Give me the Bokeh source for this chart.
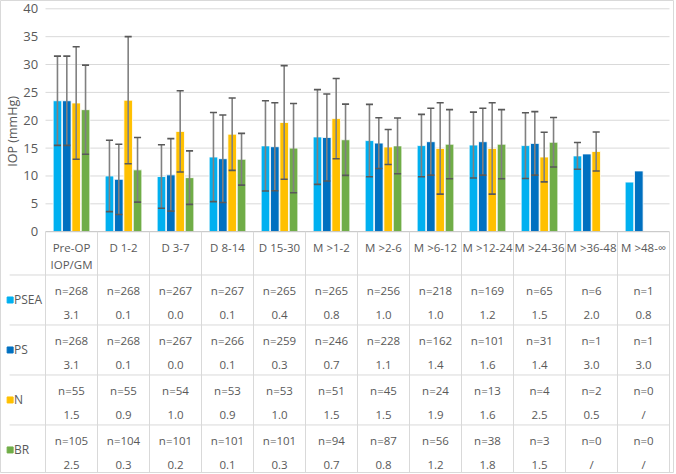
import math
from bokeh.plotting import figure
from bokeh.models import Range1d
from bokeh.core.properties import value
from bokeh.embed import file_html
from bokeh.resources import INLINE

# ---------------- data ----------------
categories = ["Pre-OP\nIOP/GM", "D 1-2", "D 3-7", "D 8-14", "D 15-30", "M >1-2",
              "M >2-6", "M >6-12", "M >12-24", "M >24-36", "M >36-48", "M >48-\u221e"]
series_names = ["PSEA", "PS", "N", "BR"]
series_colors = ["#00B0F0", "#0070C0", "#FFC000", "#70AD47"]

psea_mean = [23.5, 10.0, 9.9, 13.4, 15.4, 17.0, 16.35, 15.45, 15.55, 15.45, 13.6, 8.9]
psea_sd = [8.0, 6.4, 5.7, 8.0, 8.1, 8.5, 6.5, 5.6, 5.9, 5.9, 2.4, None]
ps_mean = [23.5, 9.4, 10.2, 13.1, 15.25, 16.9, 15.9, 16.15, 16.15, 15.85, 13.95, 10.9]
ps_sd = [8.0, 6.3, 6.5, 7.85, 7.9, 7.8, 4.55, 6.0, 6.0, 5.7, None, None]
n_mean = [23.1, 23.6, 18.0, 17.5, 19.6, 20.3, 15.2, 14.95, 14.95, 13.4, 14.4, None]
n_sd = [10.1, 11.4, 7.3, 6.5, 10.2, 7.2, 3.15, 8.2, 8.2, 4.45, 3.5, None]
br_mean = [21.9, 11.1, 9.7, 13.0, 15.0, 16.5, 15.4, 15.7, 15.7, 16.05, None, None]
br_sd = [8.0, 5.8, 4.8, 4.65, 8.0, 6.4, 5.0, 6.2, 6.2, 4.45, None, None]

psea_n = [268, 268, 267, 267, 265, 265, 256, 218, 169, 65, 6, 1]
psea_val = ["3.1", "0.1", "0.0", "0.1", "0.4", "0.8", "1.0", "1.0", "1.2", "1.5", "2.0", "0.8"]
ps_n = [268, 268, 267, 266, 259, 246, 228, 162, 101, 31, 1, 1]
ps_val = ["3.1", "0.1", "0.0", "0.1", "0.3", "0.7", "1.1", "1.4", "1.6", "1.4", "3.0", "3.0"]
n_n = [55, 55, 54, 53, 53, 51, 45, 24, 13, 4, 2, 0]
n_val = ["1.5", "0.9", "1.0", "0.9", "1.0", "1.5", "1.5", "1.9", "1.6", "2.5", "0.5", "/"]
br_n = [105, 104, 101, 101, 101, 94, 87, 56, 38, 3, 0, 0]
br_val = ["2.5", "0.3", "0.2", "0.1", "0.3", "0.7", "0.8", "1.2", "1.8", "1.5", "/", "/"]

y_ticks = [0, 5, 10, 15, 20, 25, 30, 35, 40]
y_label = "IOP (mmHg)"

means = [psea_mean, ps_mean, n_mean, br_mean]
sds = [psea_sd, ps_sd, n_sd, br_sd]
ns = [psea_n, ps_n, n_n, br_n]
vals = [psea_val, ps_val, n_val, br_val]

# ---------------- layout constants ----------------
FONT = value("Open Sans")
TXT = "#595959"
GRID = "#d9d9d9"
W, H = 674, 473
PX_X = 52.0      # px per category
PX_Y = 5.5725    # px per IOP unit
offsets = [-0.27, -0.09, 0.09, 0.27]
bar_w = 0.165
cap = 0.068
HEADER_H = 7.77
ROW_H = 8.97
ncat = len(categories)
x0 = -45.0 / PX_X
y1 = 40 + 8.3 / PX_Y
table_bottom = y1 - H / PX_Y

p = figure(width=W, height=H, x_range=Range1d(x0, x0 + W / PX_X),
           y_range=Range1d(table_bottom, y1),
           x_axis_type=None, y_axis_type=None,
           output_backend="svg", toolbar_location=None, min_border=0,
           outline_line_color=GRID, outline_line_width=1,
           background_fill_color="white", border_fill_color="white")
p.grid.visible = False

# horizontal gridlines
p.segment(x0=[0] * (len(y_ticks) - 1), x1=[ncat] * (len(y_ticks) - 1),
          y0=y_ticks[1:], y1=y_ticks[1:], line_color=GRID, line_width=1)

# y tick labels and axis title
p.text(x=[-0.14] * len(y_ticks), y=y_ticks, text=[str(t) for t in y_ticks],
       text_align="right", text_baseline="middle", text_font=FONT,
       text_font_size="13px", text_color=TXT)
p.text(x=[-0.635], y=[18], text=[y_label], angle=math.pi / 2,
       text_align="center", text_baseline="middle", text_font=FONT,
       text_font_size="12.5px", text_color=TXT)

# bars
err = []
for k in range(4):
    xs, tops = [], []
    for i in range(ncat):
        m = means[k][i]
        if m is None:
            continue
        x = i + 0.5 + offsets[k]
        xs.append(x)
        tops.append(m)
        s = sds[k][i]
        if s is not None:
            err.append((x, m - s, m + s))
    p.vbar(x=xs, top=tops, bottom=0, width=bar_w, fill_color=series_colors[k],
           line_color="white", line_width=0.8)

# error bars (drawn after all bars)
ex = [e[0] for e in err]
lo = [e[1] for e in err]
hi = [e[2] for e in err]
p.segment(x0=ex, x1=ex, y0=lo, y1=hi, line_color="#808080", line_width=1.6)
p.segment(x0=[x - cap for x in ex], x1=[x + cap for x in ex], y0=hi, y1=hi,
          line_color="#595959", line_width=1.6)
p.segment(x0=[x - cap for x in ex], x1=[x + cap for x in ex], y0=lo, y1=lo,
          line_color="#595959", line_width=1.6)

# ---------------- table ----------------
p.segment(x0=[0], x1=[ncat], y0=[0], y1=[0], line_color="#bfbfbf", line_width=1)
vx = list(range(ncat + 1))
p.segment(x0=vx, x1=vx, y0=[0] * len(vx), y1=[table_bottom] * len(vx),
          line_color=GRID, line_width=1)
row_tops = [-HEADER_H - r * ROW_H for r in range(4)]
p.segment(x0=[-0.69] * 4, x1=[ncat] * 4, y0=row_tops, y1=row_tops,
          line_color=GRID, line_width=1)

cx = [i + 0.5 for i in range(ncat)]
line1 = [c.split("\n")[0] for c in categories]
line2 = [c.split("\n")[1] if "\n" in c else "" for c in categories]
p.text(x=cx, y=[-2.9] * ncat, text=line1, text_align="center", text_baseline="middle",
       text_font=FONT, text_font_size="11.5px", text_color=TXT)
p.text(x=cx, y=[-5.8] * ncat, text=line2, text_align="center", text_baseline="middle",
       text_font=FONT, text_font_size="11.5px", text_color=TXT)

for k in range(4):
    top = row_tops[k]
    p.text(x=cx, y=[top - 2.7] * ncat, text=["n=%d" % v for v in ns[k]],
           text_align="center", text_baseline="middle", text_font=FONT,
           text_font_size="11.5px", text_color=TXT)
    p.text(x=cx, y=[top - 7.15] * ncat, text=vals[k],
           text_align="center", text_baseline="middle", text_font=FONT,
           text_font_size="11.5px", text_color=TXT)
    mid = top - 0.5 * ROW_H
    p.scatter(x=[-0.68], y=[mid], marker="square", size=6,
              fill_color=series_colors[k], line_color=series_colors[k])
    p.text(x=[-0.605], y=[mid], text=[series_names[k]], text_align="left",
           text_baseline="middle", text_font=FONT, text_font_size="12px",
           text_color=TXT)

open("out.html", "w").write(file_html(p, INLINE))
